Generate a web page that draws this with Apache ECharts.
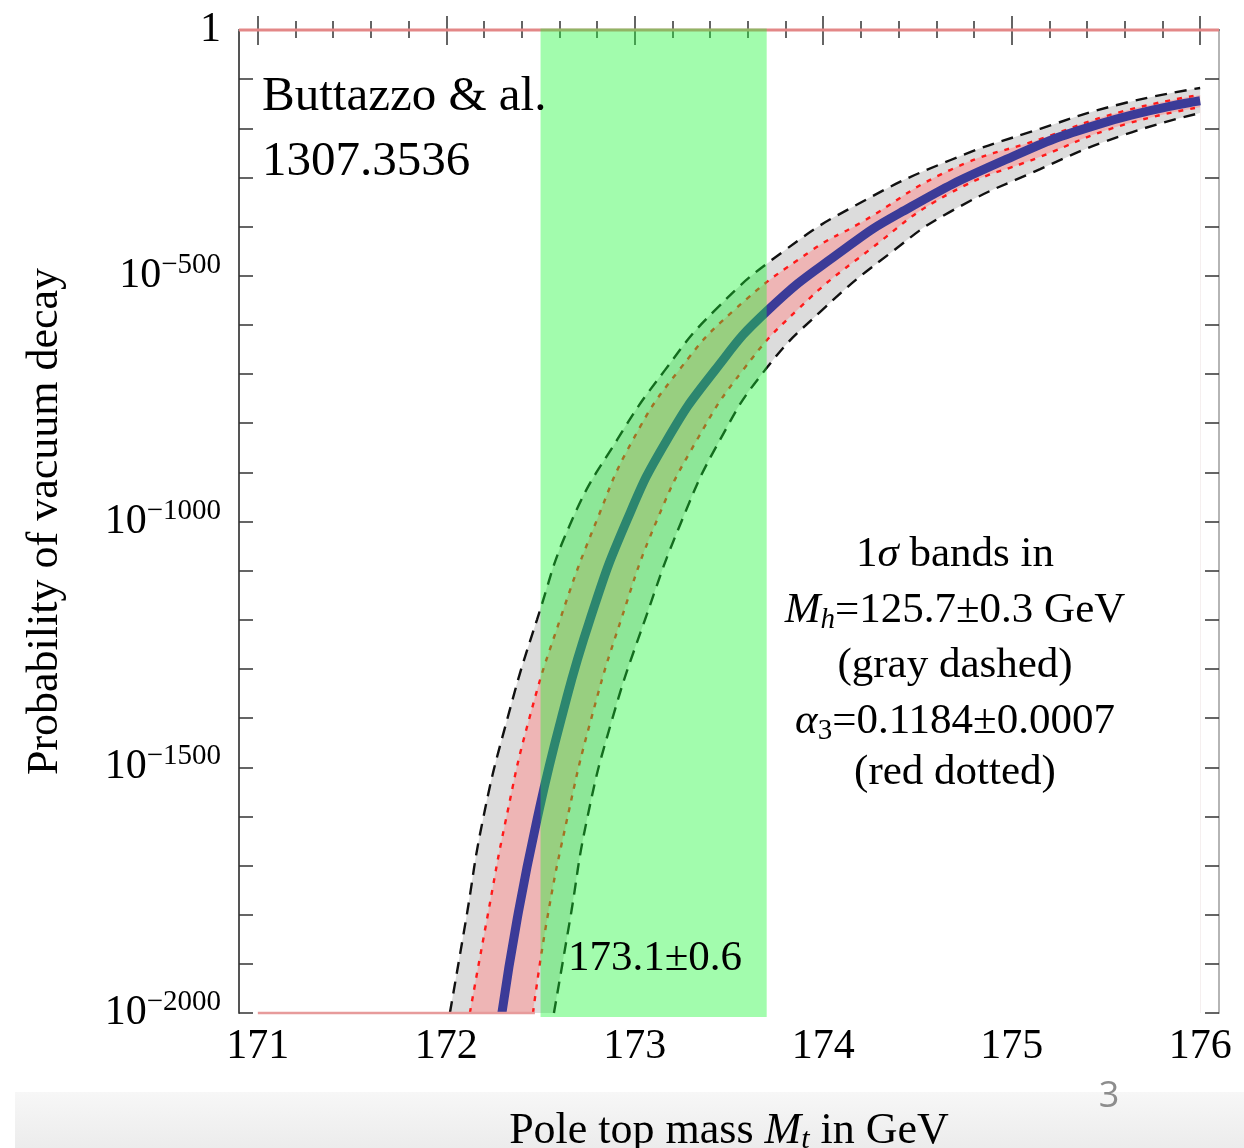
<!DOCTYPE html>
<html>
<head>
<meta charset="utf-8">
<script src="https://cdn.jsdelivr.net/npm/echarts@6.0.0/dist/echarts.min.js"></script>
<style>
html,body{margin:0;padding:0;background:#fff;}
#chart{width:1244px;height:1148px;}
</style>
</head>
<body>
<div id="chart"></div>
<script>
// ---- axis ranges & ticks ----
const xMin = 170.9, xMax = 176.1;
const yMin = -2000, yMax = 0;
const xTicks = [171, 172, 173, 174, 175, 176];
const xMinorTicks = [171.2, 171.4, 171.6, 171.8, 172.2, 172.4, 172.6, 172.8,
                     173.2, 173.4, 173.6, 173.8, 174.2, 174.4, 174.6, 174.8,
                     175.2, 175.4, 175.6, 175.8];
const yTicks = [-2000, -1500, -1000, -500, 0];   // exponents of 10

// ---- measured top-mass band (173.1 ± 0.6) ----
const greenBand = [172.5, 173.7];

// ---- curves: [Mt, log10(probability)] ----
const centerLine = [[172.295,-2000],[172.375,-1811],[172.481,-1607],[172.608,-1404],[172.762,-1200],
  [172.959,-997],[173.171,-834],[173.426,-692],[173.707,-570],[174.105,-448],[174.408,-372],
  [174.938,-269],[175.469,-191],[176.0,-144]];
const upperDashed = [[172.019,-2000],[172.104,-1811],[172.194,-1607],[172.322,-1404],[172.481,-1200],
  [172.667,-997],[172.906,-834],[173.160,-692],[173.426,-570],[173.797,-448],[174.195,-352],
  [174.673,-265],[175.151,-201],[175.575,-151],[176.0,-118]];
const upperRed = [[172.125,-2000],[172.215,-1811],[172.316,-1607],[172.438,-1404],[172.603,-1200],
  [172.799,-997],[172.990,-834],[173.235,-692],[173.527,-570],[173.941,-448],[174.195,-393],
  [174.673,-285],[175.151,-222],[175.575,-167],[176.0,-132]];
const lowerRed = [[172.460,-2000],[172.534,-1811],[172.640,-1607],[172.767,-1404],[172.927,-1200],
  [173.118,-997],[173.330,-834],[173.574,-692],[173.861,-570],[174.243,-448],[174.673,-332],
  [175.151,-258],[175.575,-195],[176.0,-157]];
const lowerDashed = [[172.571,-2000],[172.656,-1811],[172.746,-1607],[172.879,-1404],[173.054,-1200],
  [173.251,-997],[173.452,-834],[173.691,-692],[173.994,-570],[174.376,-448],[174.673,-370],
  [175.151,-283],[175.575,-216],[176.0,-169]];
const probOneLine = [[170.9, 0], [176.1, 0]];
const probZeroLine = [[171.0, -2000], [172.47, -2000]];

const SERIF = '"Liberation Serif", "Times New Roman", serif';
const chart = echarts.init(document.getElementById('chart'), null, {renderer: 'canvas'});

const SM = 0.5;
function fill(data, color) {
  return {type: 'line', data, smooth: SM, symbol: 'none', z: 1, silent: true,
    lineStyle: {width: 0, opacity: 0}, areaStyle: {color, opacity: 1, origin: 'start'}};
}
function curve(data, lineStyle, z) {
  return {type: 'line', data, smooth: SM, symbol: 'none', z: z, silent: true, lineStyle};
}

const tickStyle = {color: '#333', width: 1.5};
const baseX = {type: 'value', min: xMin, max: xMax, gridIndex: 0, z: 4, splitLine: {show: false}};
const baseY = {type: 'value', min: yMin, max: yMax, interval: 500, gridIndex: 0, z: 4, splitLine: {show: false}};

const option = {
  animation: false,
  backgroundColor: '#fff',
  grid: {left: 239, right: 25, top: 30, bottom: 135, containLabel: false, outerBoundsMode: 'none'},
  xAxis: [
    Object.assign({}, baseX, {
      position: 'bottom',
      axisLine: {show: true, lineStyle: {color: '#222', width: 2}},
      axisTick: {show: true, inside: true, length: 14, customValues: xTicks, lineStyle: tickStyle},
      axisLabel: {show: true, customValues: xTicks, margin: 13, color: '#000',
        fontFamily: SERIF, fontSize: 42, lineHeight: 42},
      name: '{n|Pole top mass }{i|M}{sub|t}{n| in GeV}',
      nameLocation: 'middle', nameGap: 94,
      nameTextStyle: {fontFamily: SERIF, fontSize: 44, color: '#000',
        rich: {
          n: {fontFamily: SERIF, fontSize: 44, lineHeight: 48, verticalAlign: 'middle', color: '#000'},
          i: {fontFamily: SERIF, fontSize: 44, lineHeight: 48, fontStyle: 'italic', verticalAlign: 'middle', color: '#000'},
          sub: {fontFamily: SERIF, fontSize: 30, lineHeight: 30, fontStyle: 'italic', verticalAlign: 'bottom', color: '#000'}
        }}
    }),
    Object.assign({}, baseX, {
      position: 'bottom',
      axisLine: {show: false},
      axisTick: {show: true, inside: true, length: 9, customValues: xMinorTicks, lineStyle: tickStyle},
      axisLabel: {show: false}
    }),
    Object.assign({}, baseX, {
      position: 'top',
      axisLine: {show: true, lineStyle: {color: '#999', width: 2}},
      axisTick: {show: true, inside: true, length: 15, customValues: xTicks, lineStyle: tickStyle},
      axisLabel: {show: false}
    }),
    Object.assign({}, baseX, {
      position: 'top',
      axisLine: {show: false},
      axisTick: {show: true, inside: true, length: 8, customValues: xMinorTicks, lineStyle: tickStyle},
      axisLabel: {show: false}
    })
  ],
  yAxis: [
    Object.assign({}, baseY, {
      position: 'left',
      axisLine: {show: true, lineStyle: {color: '#555', width: 2}},
      axisTick: {show: true, inside: true, length: 14, lineStyle: tickStyle},
      minorTick: {show: true, splitNumber: 5, length: 14, lineStyle: tickStyle},
      axisLabel: {
        show: true, margin: 18, customValues: yTicks,
        formatter: v => (v === 0 ? '{b|1}' : '{b|10}{s|\u2212' + (-v) + '}'),
        rich: {
          b: {fontFamily: SERIF, fontSize: 42, lineHeight: 50, verticalAlign: 'middle', color: '#000'},
          s: {fontFamily: SERIF, fontSize: 29, lineHeight: 29, verticalAlign: 'top', color: '#000'}
        }
      },
      name: 'Probability of vacuum decay',
      nameLocation: 'middle', nameGap: 172, nameRotate: 90,
      nameTextStyle: {fontFamily: SERIF, fontSize: 44, color: '#000'}
    }),
    Object.assign({}, baseY, {
      position: 'right',
      axisLine: {show: true, lineStyle: {color: '#b5b5b5', width: 2}},
      axisTick: {show: true, inside: true, length: 14, lineStyle: tickStyle},
      minorTick: {show: true, splitNumber: 5, length: 14, lineStyle: tickStyle},
      axisLabel: {show: false}
    })
  ],
  series: [
    fill(upperDashed, '#dcdcdc'),
    fill(upperRed, '#eeb5b5'),
    fill(lowerRed, '#dcdcdc'),
    fill(lowerDashed, '#ffffff'),
    curve(upperDashed, {color: '#111', width: 2.4, type: [12, 8]}, 3),
    curve(lowerDashed, {color: '#111', width: 2.4, type: [12, 8]}, 3),
    curve(upperRed, {color: '#ff1a1a', width: 2.4, type: [5, 7]}, 3),
    curve(lowerRed, {color: '#ff1a1a', width: 2.4, type: [5, 7]}, 3),
    curve(centerLine, {color: '#3b3b98', width: 9, cap: 'butt'}, 3),
    {type: 'line', data: probOneLine, symbol: 'none', z: 6, silent: true, clip: false,
      lineStyle: {color: '#e38787', width: 3}},
    {type: 'line', data: probZeroLine, symbol: 'none', z: 6, silent: true, clip: false,
      lineStyle: {color: '#e79b9b', width: 2.5}},
    {type: 'custom', z: 7, silent: true, clip: false,
      data: [greenBand],
      encode: {x: [0, 1]},
      renderItem: function (params, api) {
        const p0 = api.coord([api.value(0), yMax]);
        const p1 = api.coord([api.value(1), yMin]);
        return {type: 'rect',
          shape: {x: p0[0], y: p0[1] - 1.5, width: p1[0] - p0[0], height: p1[1] - p0[1] + 5.5},
          style: {fill: 'rgba(22,247,50,0.4)'}};
      }}
  ],
  graphic: [
    {type: 'rect', z: -10, silent: true,
      shape: {x: 15, y: 1092, width: 1229, height: 56},
      style: {fill: new echarts.graphic.LinearGradient(0, 0, 0, 1,
        [{offset: 0, color: '#f7f7f7'}, {offset: 1, color: '#ececec'}])}},
    {type: 'text', x: 1109, y: 1097, z: 10, silent: true,
      style: {text: '3', fontFamily: '"Open Sans", sans-serif', fontSize: 36, fill: '#8d8d8d',
        textAlign: 'center', textVerticalAlign: 'middle'}},
    {type: 'text', x: 262, y: 97, z: 10, silent: true,
      style: {text: 'Buttazzo & al.', fontFamily: SERIF, fontSize: 49, fill: '#000',
        textAlign: 'left', textVerticalAlign: 'middle'}},
    {type: 'text', x: 262, y: 162, z: 10, silent: true,
      style: {text: '1307.3536', fontFamily: SERIF, fontSize: 49, fill: '#000',
        textAlign: 'left', textVerticalAlign: 'middle'}},
    {type: 'text', x: 655, y: 959, z: 10, silent: true,
      style: {text: '173.1\u00b10.6', fontFamily: SERIF, fontSize: 43, fill: '#000',
        textAlign: 'center', textVerticalAlign: 'middle'}}
  ].concat([
    ['{n|1}{i|\u03c3}{n| bands in}', 555],
    ['{i|M}{isub|h}{n|=125.7\u00b10.3 GeV}', 611],
    ['{n|(gray dashed)}', 666],
    ['{i|\u03b1}{sub|3}{n|=0.1184\u00b10.0007}', 722],
    ['{n|(red dotted)}', 773]
  ].map(function (l) {
    return {type: 'text', x: 955, y: l[1], z: 10, silent: true,
      style: {text: l[0], fontFamily: SERIF, fontSize: 43, fill: '#000',
        textAlign: 'center', textVerticalAlign: 'middle',
        rich: {
          n: {fontFamily: SERIF, fontSize: 43, lineHeight: 48, verticalAlign: 'middle', fill: '#000'},
          i: {fontFamily: SERIF, fontSize: 43, lineHeight: 48, fontStyle: 'italic', verticalAlign: 'middle', fill: '#000'},
          sub: {fontFamily: SERIF, fontSize: 29, lineHeight: 29, verticalAlign: 'bottom', fill: '#000'},
          isub: {fontFamily: SERIF, fontSize: 29, lineHeight: 29, fontStyle: 'italic', verticalAlign: 'bottom', fill: '#000'}
        }}};
  }))
};
chart.setOption(option);
</script>
</body>
</html>
